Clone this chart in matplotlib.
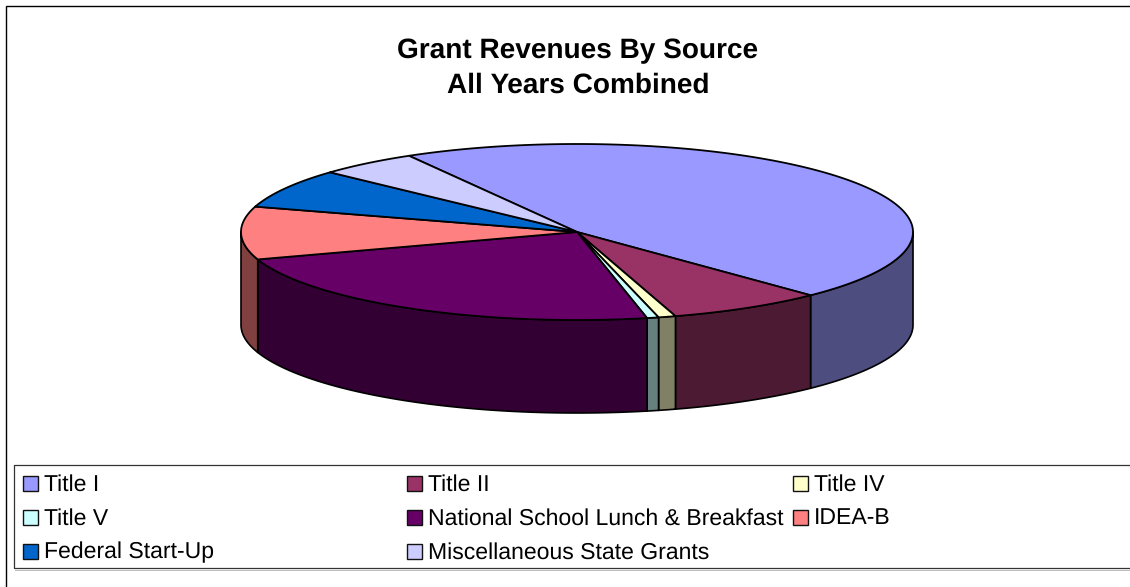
import numpy as np
import matplotlib
matplotlib.use("Agg")
import matplotlib.pyplot as plt
from matplotlib.patches import Polygon, Rectangle

labels = [
    "Title I", "Title II", "Title IV", "Title V",
    "National School Lunch & Breakfast", "IDEA-B",
    "Federal Start-Up", "Miscellaneous State Grants",
]
shares = [46.1, 7.5, 0.83, 0.56, 23.3, 9.7, 7.2, 4.81]
top_colors = ["#9999FF", "#993366", "#FFFFCC", "#CCFFFF",
              "#660066", "#FF8080", "#0066CC", "#CCCCFF"]
side_colors = ["#4D4D80", "#4D1A33", "#808066", "#668080",
               "#330033", "#804040", "#003366", "#666680"]
title_lines = ["Grant Revenues By Source", "All Years Combined"]

# pie geometry in pixels
CX, CY, RX, RY = 577, 232, 336, 88
DEPTH = 93
START = 120.0


def rim(t_deg, drop=0):
    t = np.radians(t_deg)
    return np.column_stack([CX + RX * np.cos(t), CY - RY * np.sin(t) + drop])


plt.rcParams["font.family"] = ["Liberation Sans", "DejaVu Sans"]
plt.rcParams["text.hinting"] = "no_hinting"
plt.rcParams["text.hinting_factor"] = 1
fig = plt.figure(figsize=(11.3, 5.87), dpi=100)
ax = fig.add_axes([0, 0, 1, 1])
ax.set_xlim(0, 1130)
ax.set_ylim(587, 0)
ax.axis("off")

# clockwise wedge limits, in degrees
sweep = np.array(shares) / sum(shares) * 360
ends = START - np.cumsum(sweep)
starts = ends + sweep

# walls first: only the front half of the rim (180..360 deg) is visible
for a, b, col in zip(starts, ends, side_colors):
    for k in (0, -360):
        hi = min(a + k + 360, 360)
        lo = max(b + k + 360, 180)
        if hi <= lo:
            continue
        t = np.linspace(lo, hi, 60)
        pts = np.vstack([rim(t), rim(t[::-1], DEPTH)])
        ax.add_patch(Polygon(pts, closed=True, fc=col, ec="black", lw=1.2,
                             joinstyle="round"))

for a, b, col in zip(starts, ends, top_colors):
    t = np.linspace(b, a, 200)
    pts = np.vstack([[CX, CY], rim(t)])
    ax.add_patch(Polygon(pts, closed=True, fc=col, ec="black", lw=1.3,
                         joinstyle="round"))

for i, line in enumerate(title_lines):
    ax.text(578, 58 + i * 35, line, ha="center", va="baseline",
            fontsize=20.5, fontweight="bold", color="black")

# outer frame has only top and left edges inside the crop
ax.plot([6, 6, 1130], [587, 6, 6], color="black", lw=1.0, solid_joinstyle="miter")

# legend box runs off the right side
ax.plot([1130, 14, 14, 1130], [465, 465, 568, 568], color="#333333", lw=0.9)
ax.plot([15, 1130], [569.5, 569.5], color="#bbbbbb", lw=0.7)

col_x = [23, 407, 793]
row_y = [483.5, 517, 551]
for i, (name, col) in enumerate(zip(labels, top_colors)):
    x = col_x[i % 3]
    y = row_y[i // 3]
    ax.add_patch(Rectangle((x, y - 7.5), 15, 15, fc=col, ec="#111111", lw=1.0))
    ax.text(x + 21, y + 7.5, name, ha="left", va="baseline", fontsize=16.3, color="black")

fig.savefig("out.png", dpi=100)
